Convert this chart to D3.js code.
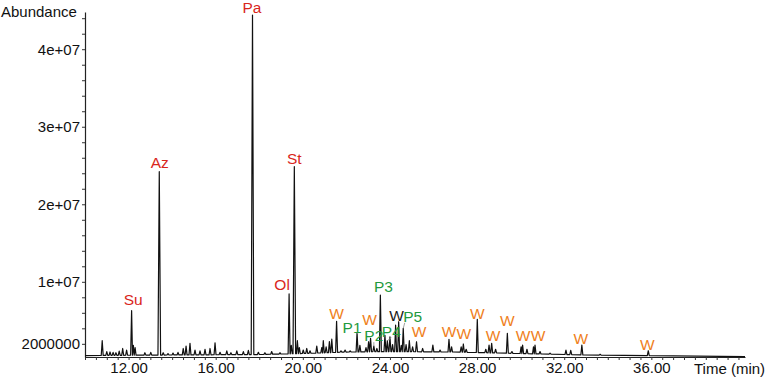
<!DOCTYPE html>
<html>
<head>
<meta charset="utf-8">
<script src="https://cdn.jsdelivr.net/npm/d3@7"></script>
<style>
  html, body { margin: 0; padding: 0; background: #fff; }
  svg { display: block; font-family: "Liberation Sans", Arial, sans-serif; }
</style>
</head>
<body>
<svg id="chart" width="768" height="380"></svg>
<script>
// ---------------- data ----------------
// retention time (min) of each peak apex
const peakTimes = [
  10.79, 11.00, 11.15, 11.29, 11.42, 11.57, 11.73, 11.91, 12.14, 12.22, 12.30,
  12.75, 13.02, 13.41, 13.59, 13.81, 14.04, 14.27, 14.51, 14.64, 14.82, 15.05,
  15.28, 15.51, 15.74, 15.97, 16.20, 16.51, 16.70, 16.97, 17.27, 17.50, 17.69,
  17.96, 18.26, 18.57, 18.95, 19.37, 19.47, 19.61, 19.75, 19.84, 20.02, 20.18,
  20.33, 20.64, 20.87, 20.94, 21.07, 21.22, 21.33, 21.55, 21.75, 21.94, 22.17,
  22.49, 22.62, 22.90, 23.02, 23.11, 23.26, 23.40, 23.56, 23.77, 23.88, 24.00,
  24.12, 24.26, 24.40, 24.52, 24.61, 24.74, 24.89, 25.04, 25.22, 25.50, 25.97,
  26.30, 26.71, 26.83, 27.27, 27.37, 27.50, 28.01, 28.40, 28.55, 28.67, 28.85,
  29.39, 29.60, 30.02, 30.09, 30.29, 30.59, 30.66, 30.89, 31.35, 32.08, 32.30,
  32.81, 33.65, 35.86
];
// abundance at each peak apex
const peakHeights = [
  2.4e6, 1.0e6, 0.95e6, 0.9e6, 0.85e6, 1.05e6, 1.4e6, 1.2e6, 6.27e6, 1.8e6, 1.5e6,
  0.85e6, 0.9e6, 2.42e7, 0.85e6, 0.75e6, 0.8e6, 0.9e6, 1.4e6, 1.7e6, 2.07e6, 1.2e6,
  1.1e6, 1.3e6, 1.4e6, 2.14e6, 0.9e6, 1.1e6, 0.85e6, 1.1e6, 1.0e6, 1.15e6, 4.44e7,
  0.9e6, 0.85e6, 1.0e6, 0.85e6, 8.43e6, 1.8e6, 2.485e7, 2.4e6, 1.5e6, 1.2e6, 1.4e6,
  1.1e6, 1.7e6, 1.5e6, 2.4e6, 1.6e6, 2.3e6, 2.6e6, 4.9e6, 1.1e6, 1.2e6, 1.1e6,
  3.45e6, 1.8e6, 1.5e6, 2.27e6, 2.7e6, 1.7e6, 1.4e6, 8.3e6, 3.1e6, 2.4e6, 2.9e6,
  1.9e6, 4.4e6, 4.85e6, 1.8e6, 4.0e6, 1.9e6, 2.4e6, 1.6e6, 2.27e6, 1.4e6, 1.85e6,
  1.2e6, 2.58e6, 1.6e6, 1.6e6, 1.98e6, 1.3e6, 5.16e6, 1.3e6, 1.85e6, 2.07e6, 1.3e6,
  3.36e6, 1.0e6, 1.6e6, 1.85e6, 1.3e6, 1.6e6, 1.85e6, 1.0e6, 0.8e6, 1.2e6, 1.15e6,
  1.85e6, 0.65e6, 1.11e6
];
// baseline (drift) of the chromatogram
const baseTimes  = [10, 14, 18, 20, 22, 24, 27, 30, 33, 37, 40.3];
const baseValues = [0.49e6, 0.56e6, 0.62e6, 0.75e6, 0.94e6, 1.0e6, 0.94e6, 0.75e6, 0.56e6, 0.43e6, 0.36e6];

// peak annotations
const labelTexts = ["Su", "Az", "Pa", "Ol", "St", "W", "P1", "W", "P2", "P3", "P4", "W", "P5", "W",
                    "W", "W", "W", "W", "W", "W", "W", "W", "W"];
const labelPeaks = [12.14, 13.41, 17.69, 19.37, 19.61, 21.55, 22.49, 23.11, 23.26, 23.56, 23.88, 24.40, 24.61, 25.22,
                    26.71, 27.37, 28.01, 28.67, 29.39, 30.09, 30.66, 32.81, 35.86];
const labelGroups = ["comp", "comp", "comp", "comp", "comp", "wax", "pah", "wax", "pah", "pah", "pah", "waxk", "pah", "wax",
                     "wax", "wax", "wax", "wax", "wax", "wax", "wax", "wax", "wax"];

// axis ticks
const xTickLabels = [12, 16, 20, 24, 28, 32, 36];
const yTickLabels = [2e6, 1e7, 2e7, 3e7, 4e7];
const yTickTexts  = ["2000000", "1e+07", "2e+07", "3e+07", "4e+07"];

// ---------------- layout ----------------
const svg = d3.select("#chart");
const x = d3.scaleLinear().domain([10, 40.3]).range([85, 745]);
const y = d3.scaleLinear().domain([0.3e6, 4.48e7]).range([357, 12]);
const base = d3.scaleLinear().domain(baseTimes).range(baseValues);

const colors = { comp: "#d9261c", wax: "#ef7f22", waxk: "#1a1a1a", pah: "#1f9a3e" };
const FONT = 15;
const LABEL_FONT = 15.5;

// label placement offsets relative to the peak apex (pixels)
const labelOffsets = [
  [1.5, -6], [0.5, -4], [-0.5, -2], [-7, -3.5], [0, -3],
  [0, -2], [-5, 0.5], [-1, -13], [0, -5], [3, -2.5], [4, -4], [-2, -1], [9.5, -6.5], [2.5, -5],
  [0, -2.5], [0.5, -5], [0, -0.5], [1.5, -2], [0, -7.5], [0.5, -3.5], [3, -3.5], [-1, -0.5], [-1, -1]
];
const leaderLines = { "P1": true, "P2": true, "P4": true, "P5": true };

// ---------------- trace ----------------
const order = d3.range(peakTimes.length).sort((a, b) => peakTimes[a] - peakTimes[b]);
const pts = [[baseTimes[0], base(baseTimes[0])]];
const halfW = 0.045;
order.forEach((i, k) => {
  const t = peakTimes[i];
  const prev = k > 0 ? peakTimes[order[k - 1]] : -Infinity;
  const next = k < order.length - 1 ? peakTimes[order[k + 1]] : Infinity;
  const w = peakHeights[i] > 1e7 ? 0.06 : halfW;
  const l = Math.max(t - w, (t + prev) / 2);
  const r = Math.min(t + w, (t + next) / 2);
  pts.push([l, base(l)], [t, peakHeights[i]], [r, base(r)]);
});
pts.push([baseTimes[baseTimes.length - 1], base(baseTimes[baseTimes.length - 1])]);

const line = d3.line().x(d => x(d[0])).y(d => y(d[1]));

// ---------------- axes ----------------
const xTicks = d3.range(20, 81).map(d => d / 2); // every 0.5 min
const xAxis = d3.axisBottom(x)
  .tickValues(xTicks)
  .tickSize(3)
  .tickSizeOuter(0)
  .tickPadding(2)
  .tickFormat(d => xTickLabels.includes(d) ? d.toFixed(2) : "");
const gx = svg.append("g").attr("transform", `translate(0,${y(0.3e6)})`).call(xAxis);

const yTicks = d3.range(1, 23).map(d => d * 2e6);
const yAxis = d3.axisLeft(y)
  .tickValues(yTicks)
  .tickSize(3)
  .tickSizeOuter(0)
  .tickPadding(2)
  .tickFormat(d => { const j = yTickLabels.indexOf(d); return j >= 0 ? yTickTexts[j] : ""; });
const gy = svg.append("g").attr("transform", `translate(${x(10)},0)`).call(yAxis);

[gx, gy].forEach(g => {
  g.selectAll("path.domain").attr("stroke", "#222").attr("stroke-width", 1.2);
  g.selectAll(".tick line").attr("stroke", "#333").attr("stroke-width", 1);
  g.selectAll(".tick text").attr("fill", "#111").style("font-size", FONT + "px")
    .style("font-family", "\"Liberation Sans\", Arial, sans-serif");
});

svg.append("text").attr("x", 1).attr("y", 17).attr("fill", "#111")
  .style("font-size", FONT + "px").text("Abundance");
svg.append("text").attr("x", 694).attr("y", 374).attr("fill", "#111")
  .style("font-size", FONT + "px").text("Time (min)");

// ---------------- chromatogram ----------------
svg.append("path").datum(pts).attr("d", line)
  .attr("fill", "none").attr("stroke", "#111").attr("stroke-width", 1.2)
  .attr("stroke-linejoin", "round");

// ---------------- annotations ----------------
labelTexts.forEach((txt, i) => {
  const pi = peakTimes.indexOf(labelPeaks[i]);
  const px = x(labelPeaks[i]);
  const py = y(peakHeights[pi]);
  const lx = px + labelOffsets[i][0];
  const ly = py + labelOffsets[i][1];
  if (leaderLines[txt]) {
    svg.append("line")
      .attr("x1", txt === "P5" ? lx - 8 : lx + (txt === "P1" ? 6 : 0))
      .attr("y1", ly + 1)
      .attr("x2", px).attr("y2", py)
      .attr("stroke", "#8a8a8a").attr("stroke-width", 0.8);
  }
  svg.append("text")
    .attr("x", lx).attr("y", ly)
    .attr("text-anchor", "middle")
    .attr("fill", colors[labelGroups[i]])
    .style("font-size", LABEL_FONT + "px")
    .text(txt);
});
</script>
</body>
</html>
